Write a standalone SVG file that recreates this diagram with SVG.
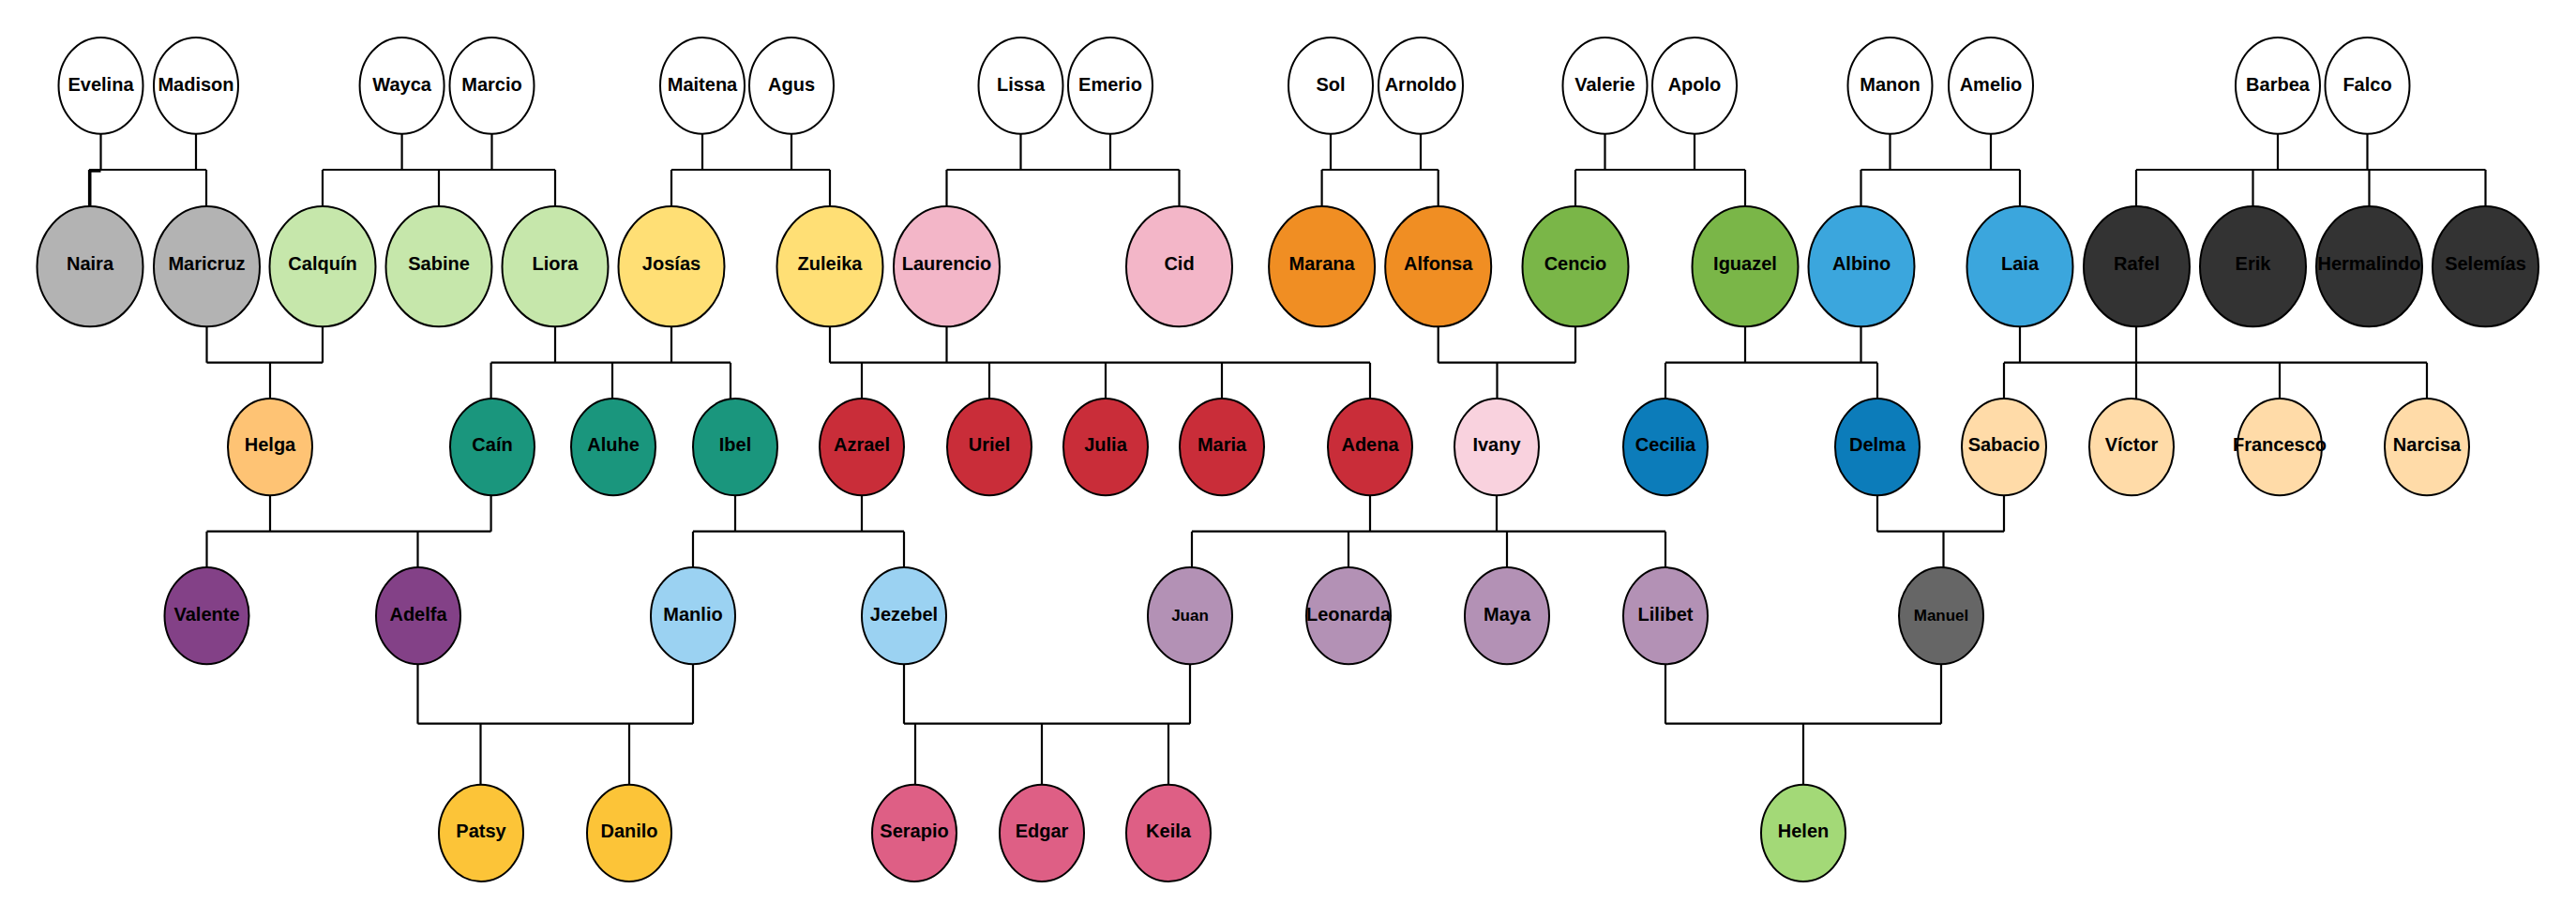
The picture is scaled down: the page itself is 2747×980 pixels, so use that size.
<svg xmlns="http://www.w3.org/2000/svg" width="2747" height="980" viewBox="0 0 2747 980">
<style>
.n ellipse{stroke:#000;stroke-width:2}
.t{font-family:"Liberation Sans",Arial,sans-serif;font-weight:bold;font-size:20px;text-anchor:middle;fill:#000}
.s{font-size:17px}
.c{fill:none;stroke:#000;stroke-width:2.2}
.w{fill:#fff}.gy{fill:#b3b3b3}.lg{fill:#c6e7ab}.yl{fill:#ffdf75}.pk{fill:#f3b6c8}.or{fill:#f08e23}.gr{fill:#7ab648}.bl{fill:#3ba6dd}.dk{fill:#333}
.hg{fill:#fec374}.tl{fill:#1a967d}.rd{fill:#c92d39}.lp{fill:#f9d2de}.db{fill:#0c7cba}.pe{fill:#ffdba8}
.pu{fill:#834187}.lb{fill:#9bd2f2}.mv{fill:#b391b5}.mg{fill:#666}.gd{fill:#fcc438}.rs{fill:#de5f85}.hl{fill:#a3d977}
</style>
<rect width="2747" height="980" fill="#fff"/>
<g id="connectors" class="c">
<path d="M107.5 142.7V181M209 142.7V181M95 181H220M95 181V220M220 181V220M107.5 182.6H96.4V220"/>
<path d="M428.6 142.7V181M524.5 142.7V181M344 181H592M344 181V220M468 181V220M592 181V220"/>
<path d="M749 142.7V181M844 142.7V181M716 181H885M716 181V220M885 181V220"/>
<path d="M1088.5 142.7V181M1184 142.7V181M1009.5 181H1257.5M1009.5 181V220M1257.5 181V220"/>
<path d="M1419 142.7V181M1515 142.7V181M1409.6 181H1533.7M1409.6 181V220M1533.7 181V220"/>
<path d="M1711.5 142.7V181M1807 142.7V181M1680 181H1861M1680 181V220M1861 181V220"/>
<path d="M2015.5 142.7V181M2123 142.7V181M1984.5 181H2154M1984.5 181V220M2154 181V220"/>
<path d="M2429 142.7V181M2524.5 142.7V181M2278 181H2650.5M2278 181V220M2402.5 181V220M2526.5 181V220M2650.5 181V220"/>
<path d="M220.5 348.3V386.7M344 348.3V386.7M220.5 386.7H344M288 386.7V425"/>
<path d="M592 348.3V386.7M716 348.3V386.7M523.6 386.7H779M523.6 386.7V425M653 386.7V425M779 386.7V425.5"/>
<path d="M885 348.3V386.7M1009.5 348.3V386.7M885 386.7H1461M919 386.7V425M1055 386.7V425M1179 386.7V425M1303 386.7V425M1461 386.7V425"/>
<path d="M1533.7 348.3V386.7M1680 348.3V386.7M1533.7 386.7H1680M1596.5 386.7V425"/>
<path d="M1861 348.3V386.7M1984.5 348.3V386.7M1776 386.7H2002M1776 386.7V425M2002 386.7V425"/>
<path d="M2154 348.3V386.7M2278 348.3V386.7M2137 386.7H2588M2137 386.7V425M2278 386.7V425.5M2431 386.7V425M2588 386.7V425"/>
<path d="M288 528.3V566.7M523.6 528.3V566.7M220.5 566.7H523.6M220.5 566.7V605M445.5 566.7V605"/>
<path d="M784 528.3V566.7M919 528.3V566.7M739 566.7H964M739 566.7V605M964 566.7V605"/>
<path d="M1461 528.3V566.7M1596 528.3V566.7M1271 566.7H1776M1271 566.7V605M1438 566.7V605M1607 566.7V605M1776 566.7V605"/>
<path d="M2002 528.3V566.7M2137 528.3V566.7M2002 566.7H2137M2072.5 566.7V605"/>
<path d="M445.5 708.3V771.7M739 708.3V771.7M445.5 771.7H739M512.5 771.7V836.7M671 771.7V836.7"/>
<path d="M964 708.3V771.7M1269 708.3V771.7M964 771.7H1269M976 771.7V836.7M1111 771.7V836.7M1246 771.7V836.7"/>
<path d="M1776 708.3V771.7M2070 708.3V771.7M1776 771.7H2070M1923 771.7V836.7"/>
</g>
<g id="n-evelina" class="n"><ellipse class="w" cx="107.5" cy="91.3" rx="45" ry="51.4"/><text class="t" x="107.5" y="96.5">Evelina</text></g>
<g id="n-madison" class="n"><ellipse class="w" cx="209" cy="91.3" rx="45" ry="51.4"/><text class="t" x="209" y="96.5">Madison</text></g>
<g id="n-wayca" class="n"><ellipse class="w" cx="428.6" cy="91.3" rx="45" ry="51.4"/><text class="t" x="428.6" y="96.5">Wayca</text></g>
<g id="n-marcio" class="n"><ellipse class="w" cx="524.5" cy="91.3" rx="45" ry="51.4"/><text class="t" x="524.5" y="96.5">Marcio</text></g>
<g id="n-maitena" class="n"><ellipse class="w" cx="749" cy="91.3" rx="45" ry="51.4"/><text class="t" x="749" y="96.5">Maitena</text></g>
<g id="n-agus" class="n"><ellipse class="w" cx="844" cy="91.3" rx="45" ry="51.4"/><text class="t" x="844" y="96.5">Agus</text></g>
<g id="n-lissa" class="n"><ellipse class="w" cx="1088.5" cy="91.3" rx="45" ry="51.4"/><text class="t" x="1088.5" y="96.5">Lissa</text></g>
<g id="n-emerio" class="n"><ellipse class="w" cx="1184" cy="91.3" rx="45" ry="51.4"/><text class="t" x="1184" y="96.5">Emerio</text></g>
<g id="n-sol" class="n"><ellipse class="w" cx="1419" cy="91.3" rx="45" ry="51.4"/><text class="t" x="1419" y="96.5">Sol</text></g>
<g id="n-arnoldo" class="n"><ellipse class="w" cx="1515" cy="91.3" rx="45" ry="51.4"/><text class="t" x="1515" y="96.5">Arnoldo</text></g>
<g id="n-valerie" class="n"><ellipse class="w" cx="1711.5" cy="91.3" rx="45" ry="51.4"/><text class="t" x="1711.5" y="96.5">Valerie</text></g>
<g id="n-apolo" class="n"><ellipse class="w" cx="1807" cy="91.3" rx="45" ry="51.4"/><text class="t" x="1807" y="96.5">Apolo</text></g>
<g id="n-manon" class="n"><ellipse class="w" cx="2015.5" cy="91.3" rx="45" ry="51.4"/><text class="t" x="2015.5" y="96.5">Manon</text></g>
<g id="n-amelio" class="n"><ellipse class="w" cx="2123" cy="91.3" rx="45" ry="51.4"/><text class="t" x="2123" y="96.5">Amelio</text></g>
<g id="n-barbea" class="n"><ellipse class="w" cx="2429" cy="91.3" rx="45" ry="51.4"/><text class="t" x="2429" y="96.5">Barbea</text></g>
<g id="n-falco" class="n"><ellipse class="w" cx="2524.5" cy="91.3" rx="45" ry="51.4"/><text class="t" x="2524.5" y="96.5">Falco</text></g>

<g id="n-naira" class="n"><ellipse class="gy" cx="96" cy="284.2" rx="56.5" ry="64.1"/><text class="t" x="96" y="288">Naira</text></g>
<g id="n-maricruz" class="n"><ellipse class="gy" cx="220.5" cy="284.2" rx="56.5" ry="64.1"/><text class="t" x="220.5" y="288">Maricruz</text></g>
<g id="n-calquin" class="n"><ellipse class="lg" cx="344" cy="284.2" rx="56.5" ry="64.1"/><text class="t" x="344" y="288">Calquín</text></g>
<g id="n-sabine" class="n"><ellipse class="lg" cx="468" cy="284.2" rx="56.5" ry="64.1"/><text class="t" x="468" y="288">Sabine</text></g>
<g id="n-liora" class="n"><ellipse class="lg" cx="592" cy="284.2" rx="56.5" ry="64.1"/><text class="t" x="592" y="288">Liora</text></g>
<g id="n-josias" class="n"><ellipse class="yl" cx="716" cy="284.2" rx="56.5" ry="64.1"/><text class="t" x="716" y="288">Josías</text></g>
<g id="n-zuleika" class="n"><ellipse class="yl" cx="885" cy="284.2" rx="56.5" ry="64.1"/><text class="t" x="885" y="288">Zuleika</text></g>
<g id="n-laurencio" class="n"><ellipse class="pk" cx="1009.5" cy="284.2" rx="56.5" ry="64.1"/><text class="t" x="1009.5" y="288">Laurencio</text></g>
<g id="n-cid" class="n"><ellipse class="pk" cx="1257.5" cy="284.2" rx="56.5" ry="64.1"/><text class="t" x="1257.5" y="288">Cid</text></g>
<g id="n-marana" class="n"><ellipse class="or" cx="1409.6" cy="284.2" rx="56.5" ry="64.1"/><text class="t" x="1409.6" y="288">Marana</text></g>
<g id="n-alfonsa" class="n"><ellipse class="or" cx="1533.7" cy="284.2" rx="56.5" ry="64.1"/><text class="t" x="1533.7" y="288">Alfonsa</text></g>
<g id="n-cencio" class="n"><ellipse class="gr" cx="1680" cy="284.2" rx="56.5" ry="64.1"/><text class="t" x="1680" y="288">Cencio</text></g>
<g id="n-iguazel" class="n"><ellipse class="gr" cx="1861" cy="284.2" rx="56.5" ry="64.1"/><text class="t" x="1861" y="288">Iguazel</text></g>
<g id="n-albino" class="n"><ellipse class="bl" cx="1985" cy="284.2" rx="56.5" ry="64.1"/><text class="t" x="1985" y="288">Albino</text></g>
<g id="n-laia" class="n"><ellipse class="bl" cx="2154" cy="284.2" rx="56.5" ry="64.1"/><text class="t" x="2154" y="288">Laia</text></g>
<g id="n-rafel" class="n"><ellipse class="dk" cx="2278.5" cy="284.2" rx="56.5" ry="64.1"/><text class="t" x="2278.5" y="288">Rafel</text></g>
<g id="n-erik" class="n"><ellipse class="dk" cx="2402.5" cy="284.2" rx="56.5" ry="64.1"/><text class="t" x="2402.5" y="288">Erik</text></g>
<g id="n-hermalindo" class="n"><ellipse class="dk" cx="2526.5" cy="284.2" rx="56.5" ry="64.1"/><text class="t" x="2526.5" y="288">Hermalindo</text></g>
<g id="n-selemias" class="n"><ellipse class="dk" cx="2650.5" cy="284.2" rx="56.5" ry="64.1"/><text class="t" x="2650.5" y="288">Selemías</text></g>

<g id="n-helga" class="n"><ellipse class="hg" cx="288" cy="476.7" rx="45" ry="51.6"/><text class="t" x="288" y="481.2">Helga</text></g>
<g id="n-cain" class="n"><ellipse class="tl" cx="525" cy="476.7" rx="45" ry="51.6"/><text class="t" x="525" y="481.2">Caín</text></g>
<g id="n-aluhe" class="n"><ellipse class="tl" cx="654" cy="476.7" rx="45" ry="51.6"/><text class="t" x="654" y="481.2">Aluhe</text></g>
<g id="n-ibel" class="n"><ellipse class="tl" cx="784" cy="476.7" rx="45" ry="51.6"/><text class="t" x="784" y="481.2">Ibel</text></g>
<g id="n-azrael" class="n"><ellipse class="rd" cx="919" cy="476.7" rx="45" ry="51.6"/><text class="t" x="919" y="481.2">Azrael</text></g>
<g id="n-uriel" class="n"><ellipse class="rd" cx="1055" cy="476.7" rx="45" ry="51.6"/><text class="t" x="1055" y="481.2">Uriel</text></g>
<g id="n-julia" class="n"><ellipse class="rd" cx="1179" cy="476.7" rx="45" ry="51.6"/><text class="t" x="1179" y="481.2">Julia</text></g>
<g id="n-maria" class="n"><ellipse class="rd" cx="1303" cy="476.7" rx="45" ry="51.6"/><text class="t" x="1303" y="481.2">Maria</text></g>
<g id="n-adena" class="n"><ellipse class="rd" cx="1461" cy="476.7" rx="45" ry="51.6"/><text class="t" x="1461" y="481.2">Adena</text></g>
<g id="n-ivany" class="n"><ellipse class="lp" cx="1596" cy="476.7" rx="45" ry="51.6"/><text class="t" x="1596" y="481.2">Ivany</text></g>
<g id="n-cecilia" class="n"><ellipse class="db" cx="1776" cy="476.7" rx="45" ry="51.6"/><text class="t" x="1776" y="481.2">Cecilia</text></g>
<g id="n-delma" class="n"><ellipse class="db" cx="2002" cy="476.7" rx="45" ry="51.6"/><text class="t" x="2002" y="481.2">Delma</text></g>
<g id="n-sabacio" class="n"><ellipse class="pe" cx="2137" cy="476.7" rx="45" ry="51.6"/><text class="t" x="2137" y="481.2">Sabacio</text></g>
<g id="n-victor" class="n"><ellipse class="pe" cx="2273" cy="476.7" rx="45" ry="51.6"/><text class="t" x="2273" y="481.2">Víctor</text></g>
<g id="n-francesco" class="n"><ellipse class="pe" cx="2431" cy="476.7" rx="45" ry="51.6"/><text class="t" x="2431" y="481.2">Francesco</text></g>
<g id="n-narcisa" class="n"><ellipse class="pe" cx="2588" cy="476.7" rx="45" ry="51.6"/><text class="t" x="2588" y="481.2">Narcisa</text></g>

<g id="n-valente" class="n"><ellipse class="pu" cx="220.5" cy="656.7" rx="45" ry="51.6"/><text class="t" x="220.5" y="661.5">Valente</text></g>
<g id="n-adelfa" class="n"><ellipse class="pu" cx="446" cy="656.7" rx="45" ry="51.6"/><text class="t" x="446" y="661.5">Adelfa</text></g>
<g id="n-manlio" class="n"><ellipse class="lb" cx="739" cy="656.7" rx="45" ry="51.6"/><text class="t" x="739" y="661.5">Manlio</text></g>
<g id="n-jezebel" class="n"><ellipse class="lb" cx="964" cy="656.7" rx="45" ry="51.6"/><text class="t" x="964" y="661.5">Jezebel</text></g>
<g id="n-juan" class="n"><ellipse class="mv" cx="1269" cy="656.7" rx="45" ry="51.6"/><text class="t s" x="1269" y="661.5">Juan</text></g>
<g id="n-leonarda" class="n"><ellipse class="mv" cx="1438" cy="656.7" rx="45" ry="51.6"/><text class="t" x="1438" y="661.5">Leonarda</text></g>
<g id="n-maya" class="n"><ellipse class="mv" cx="1607" cy="656.7" rx="45" ry="51.6"/><text class="t" x="1607" y="661.5">Maya</text></g>
<g id="n-lilibet" class="n"><ellipse class="mv" cx="1776" cy="656.7" rx="45" ry="51.6"/><text class="t" x="1776" y="661.5">Lilibet</text></g>
<g id="n-manuel" class="n"><ellipse class="mg" cx="2070" cy="656.7" rx="45" ry="51.6"/><text class="t s" x="2070" y="661.5">Manuel</text></g>

<g id="n-patsy" class="n"><ellipse class="gd" cx="513" cy="888.3" rx="45" ry="51.6"/><text class="t" x="513" y="892.5">Patsy</text></g>
<g id="n-danilo" class="n"><ellipse class="gd" cx="671" cy="888.3" rx="45" ry="51.6"/><text class="t" x="671" y="892.5">Danilo</text></g>
<g id="n-serapio" class="n"><ellipse class="rs" cx="975" cy="888.3" rx="45" ry="51.6"/><text class="t" x="975" y="892.5">Serapio</text></g>
<g id="n-edgar" class="n"><ellipse class="rs" cx="1111" cy="888.3" rx="45" ry="51.6"/><text class="t" x="1111" y="892.5">Edgar</text></g>
<g id="n-keila" class="n"><ellipse class="rs" cx="1246" cy="888.3" rx="45" ry="51.6"/><text class="t" x="1246" y="892.5">Keila</text></g>
<g id="n-helen" class="n"><ellipse class="hl" cx="1923" cy="888.3" rx="45" ry="51.6"/><text class="t" x="1923" y="892.5">Helen</text></g>
</svg>
